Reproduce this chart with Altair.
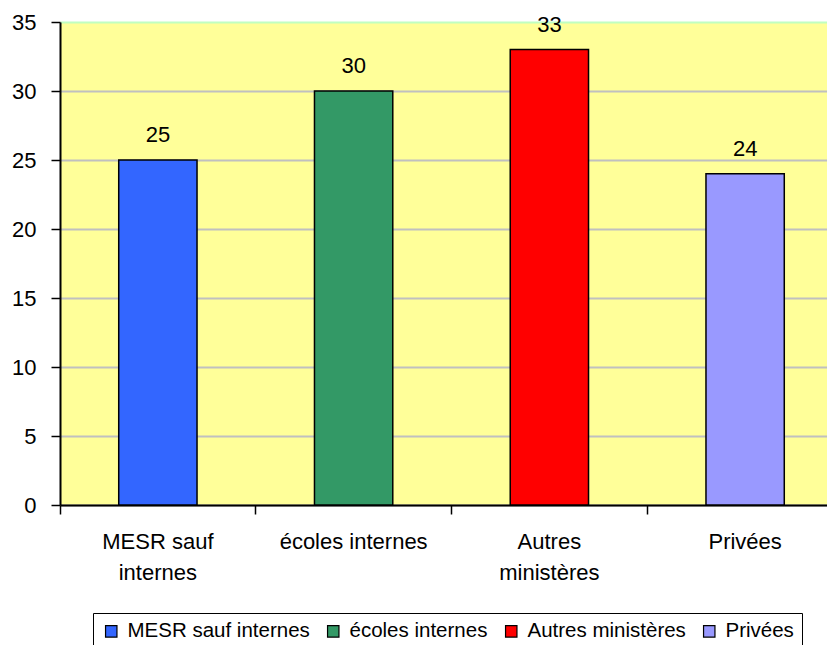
import altair as alt
import pandas as pd

categories = ["MESR sauf internes", "écoles internes", "Autres ministères", "Privées"]
values = [25, 30, 33, 24]
colors = ["#3366ff", "#339966", "#ff0000", "#9999ff"]
axis_lines = {"MESR sauf internes": ["MESR sauf", "internes"],
              "Autres ministères": ["Autres", "ministères"]}
y_ticks = [0, 5, 10, 15, 20, 25, 30, 35]

df = pd.DataFrame({"cat": categories, "val": values})

FONT = "Liberation Sans"

expr = "datum.label"
for k, v in axis_lines.items():
    arr = "[" + ",".join("'" + s + "'" for s in v) + "]"
    expr = f"datum.label == '{k}' ? {arr} : ({expr})"

x = alt.X("cat:N", sort=categories, title=None,
          scale=alt.Scale(range=[0, 783], paddingInner=0, paddingOuter=0),
          axis=alt.Axis(labelAngle=0, bandPosition=0,
                        labelExpr=expr, labelFontSize=22, labelFont=FONT,
                        labelColor="black", labelLineHeight=31,
                        labelBaseline="top", labelPadding=17,
                        tickSize=9, tickColor="black", tickWidth=1.5,
                        domainColor="black", domainWidth=2, grid=False))

y = alt.Y("val:Q", title=None,
          scale=alt.Scale(domain=[0, 35], nice=False),
          axis=alt.Axis(values=y_ticks, labelFontSize=22, labelFont=FONT,
                        labelColor="black", labelPadding=15,
                        tickSize=9, tickColor="black", tickWidth=1.5,
                        domainColor="black", domainWidth=2,
                        gridColor={"condition": {"test": "datum.value == 35", "value": "#c0ffc0"},
                                   "value": "#c0c0c0"},
                        gridWidth=2))

bars = alt.Chart(df).mark_bar(width=alt.RelativeBandSize(0.4), stroke="black",
                              strokeWidth=1.5).encode(
    x=x, y=y,
    color=alt.Color("cat:N", sort=categories,
                    scale=alt.Scale(domain=categories, range=colors),
                    legend=alt.Legend(title=None, orient="none", legendX=33, legendY=591,
                                      direction="horizontal", columns=4,
                                      strokeColor="black", padding=8,
                                      symbolType="square", symbolSize=130,
                                      symbolStrokeColor="black", symbolStrokeWidth=1.2,
                                      labelFontSize=20.5, labelFont=FONT, labelColor="black",
                                      labelLimit=400,
                                      labelOffset=6, columnPadding=13, fillColor="white"))
)

text = alt.Chart(df).mark_text(fontSize=22, font=FONT, color="black",
                               baseline="alphabetic", dy=-18).encode(
    x=alt.X("cat:N", sort=categories, bandPosition=0.5),
    y="val:Q", text="val:Q"
)

chart = alt.layer(bars, text).properties(
    width=767, height=483,
    autosize=alt.AutoSizeParams(type="none"),
    padding={"left": 52, "top": 14, "right": 0, "bottom": 140},
    background="white",
).configure_view(fill="#ffff99", stroke="transparent")

chart.save("out.html", embed_options={"renderer": "svg", "actions": False})
